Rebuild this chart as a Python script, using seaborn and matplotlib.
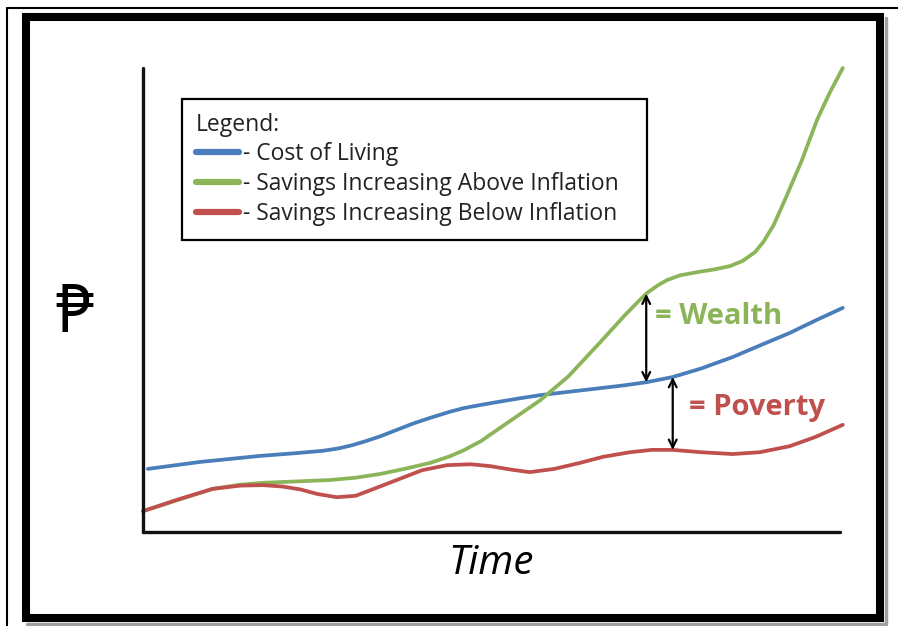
import numpy as np
import pandas as pd
import matplotlib
matplotlib.use("Agg")
import matplotlib.pyplot as plt
from matplotlib.patches import Rectangle
from matplotlib.lines import Line2D
import seaborn as sns

# ---- data (x = time 0..100, y = value 0..100) ----
blue_x = [0.7, 8.2, 16.8, 22.0, 25.8, 28.0, 30.0, 32.0, 34.0, 36.4, 38.8, 41.2, 44.0, 46.0, 48.5, 50.8, 54.0, 57.0, 61.0, 65.6, 69.0, 72.3, 76.0, 80.0, 84.6, 88.5, 92.8, 96.5, 100.4]
blue_y = [13.6, 15.1, 16.4, 17.0, 17.5, 18.0, 18.7, 19.6, 20.6, 22.0, 23.4, 24.6, 25.9, 26.7, 27.4, 28.0, 28.8, 29.5, 30.2, 31.0, 31.6, 32.3, 33.4, 35.2, 37.7, 40.2, 42.9, 45.6, 48.3]

green_x = [0, 5, 10, 14, 17.2, 22, 26.8, 30.5, 34.0, 37.5, 41.2, 44.0, 46, 48.5, 50.8, 54, 57.0, 61, 65.6, 69, 71.0, 72.3, 73.8, 75.2, 77.0, 79.5, 82.0, 84.2, 86.0, 87.8, 89.0, 90.5, 92.1, 94.5, 96.7, 98.5, 100.4]
green_y = [4.5, 6.9, 9.3, 10.2, 10.6, 10.9, 11.2, 11.7, 12.5, 13.6, 14.9, 16.3, 17.6, 19.6, 22.0, 25.3, 28.4, 33.5, 40.9, 46.5, 49.6, 51.5, 53.1, 54.3, 55.3, 56.0, 56.6, 57.3, 58.4, 60.3, 62.5, 66.2, 71.6, 80.0, 88.8, 94.6, 100.0]

red_x = [0, 5, 10, 14, 17.2, 20, 22.5, 25, 27.8, 30.5, 32.6, 36.4, 40, 43.6, 47, 49.8, 53, 55.5, 59, 62.7, 66, 69.9, 73, 76.0, 80, 84.6, 88.5, 92.8, 96.5, 100.4]
red_y = [4.5, 7.0, 9.3, 10.0, 10.1, 9.8, 9.2, 8.2, 7.5, 7.8, 9.0, 11.2, 13.3, 14.4, 14.6, 14.2, 13.4, 12.9, 13.6, 14.9, 16.2, 17.2, 17.7, 17.7, 17.2, 16.8, 17.2, 18.5, 20.5, 23.1]

series_names = ["Cost of Living", "Savings Increasing Above Inflation", "Savings Increasing Below Inflation"]
series_colors = ["#4A7EBB", "#8CB55A", "#C0504D"]

wealth_x = 72.2
poverty_x = 76.0
wealth_label = "= Wealth"
poverty_label = "= Poverty"
y_label = "\u20b1"
x_label = "Time"
legend_title = "Legend:"

# ---- build long-form table ----
frames = []
for name, xs, ys in zip(series_names, [blue_x, green_x, red_x], [blue_y, green_y, red_y]):
    frames.append(pd.DataFrame({"x": xs, "y": ys, "series": name}))
df = pd.concat(frames, ignore_index=True)

W, H = 898, 626
fig = plt.figure(figsize=(W / 100, H / 100), dpi=100)
sns.set_style("white")
plt.rcParams["font.family"] = ["Open Sans", "DejaVu Sans"]

def fx(px):
    return px / W

def fy(py):
    return 1 - py / H

# outer thin lines
fig.add_artist(Line2D([fx(7), fx(898)], [fy(8), fy(8)], transform=fig.transFigure, color="black", lw=1.5))
fig.add_artist(Line2D([fx(7), fx(7)], [fy(8), fy(626)], transform=fig.transFigure, color="black", lw=1.5))

# shadow (right and bottom only) + thick frame
fig.add_artist(Line2D([fx(886), fx(886), fx(27)], [fy(18), fy(624), fy(624)], transform=fig.transFigure,
                      color="#a0a0a0", lw=2.5, zorder=0))
fig.add_artist(Rectangle((fx(26), fy(618)), fx(880 - 26), (618 - 17) / H, transform=fig.transFigure,
                         fill=False, edgecolor="black", lw=5.8, zorder=1))

ax = fig.add_axes([fx(143), fy(532), fx(840 - 143), (532 - 68) / H])
ax.set_facecolor("none")

sns.lineplot(data=df, x="x", y="y", hue="series", hue_order=series_names,
             palette=dict(zip(series_names, series_colors)), sort=False,
             linewidth=2.7, ax=ax, legend=False, estimator=None)
for ln in ax.get_lines():
    ln.set_clip_on(False)
    ln.set_solid_capstyle("round")
    ln.set_solid_joinstyle("round")

ax.set_xlim(0, 100)
ax.set_ylim(0, 100)
ax.set_xticks([])
ax.set_yticks([])
for s in ["top", "right"]:
    ax.spines[s].set_visible(False)
for s in ["left", "bottom"]:
    ax.spines[s].set_linewidth(2.4)
    ax.spines[s].set_color("#111111")
    ax.spines[s].set_capstyle("round")

ax.set_xlabel(x_label, fontsize=29, style="italic", family=["Open Sans", "DejaVu Sans"], labelpad=8,
              color="black")
ax.set_ylabel(y_label, fontsize=48, rotation=0, family=["Noto Sans", "DejaVu Sans"],
              labelpad=44, va="center", color="black")
ax.yaxis.set_label_coords(-0.099, 0.47)

# arrows
wg_top = np.interp(wealth_x, green_x, green_y)
wg_bot = np.interp(wealth_x, blue_x, blue_y)
pv_top = np.interp(poverty_x, blue_x, blue_y)
pv_bot = np.interp(poverty_x, red_x, red_y)
ax.annotate("", xy=(wealth_x, wg_top), xytext=(wealth_x, wg_bot),
            arrowprops=dict(arrowstyle="<->", color="black", lw=1.6, mutation_scale=14, shrinkA=0, shrinkB=0))
ax.annotate("", xy=(poverty_x, pv_top), xytext=(poverty_x, pv_bot),
            arrowprops=dict(arrowstyle="<->", color="black", lw=1.6, mutation_scale=14, shrinkA=0, shrinkB=0))

ax.text(wealth_x + 1.3, (wg_top + wg_bot) / 2 + 4.6, wealth_label, color=series_colors[1],
        fontsize=21, fontweight="bold", va="center", ha="left")
ax.text(poverty_x + 2.4, (pv_top + pv_bot) / 2 + 1.2, poverty_label, color=series_colors[2],
        fontsize=21, fontweight="bold", va="center", ha="left")

# legend
handles = [Line2D([0], [0], color=c, lw=4.5) for c in series_colors]
labels = ["- " + n for n in series_names]
leg = fig.legend(handles, labels, title=legend_title, loc="upper left",
                 bbox_to_anchor=(fx(182), fy(241), fx(647 - 182), (241 - 99) / H),
                 bbox_transform=fig.transFigure, mode="expand",
                 frameon=True, fancybox=False, edgecolor="black", framealpha=1,
                 fontsize=16.5, title_fontsize=16.5, alignment="left",
                 handlelength=1.9, handletextpad=0.15, labelspacing=0.25,
                 borderpad=0.6, borderaxespad=0)
leg.get_frame().set_linewidth(1.6)
leg.get_title().set_color("#222222")
for t in leg.get_texts():
    t.set_color("#222222")

fig.savefig("out.png", dpi=100)
